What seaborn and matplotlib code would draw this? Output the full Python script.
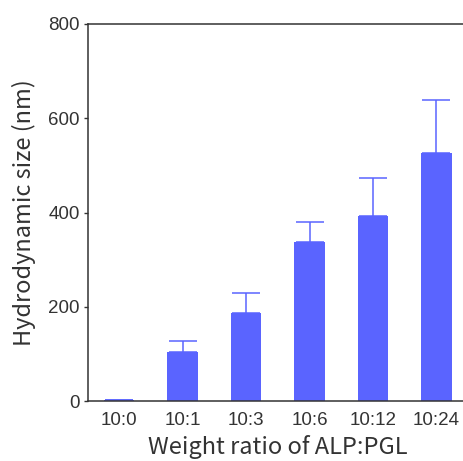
import seaborn as sns
import matplotlib.pyplot as plt
import numpy as np

ratios = ['10:0', '10:1', '10:3', '10:6', '10:12', '10:24']
size_nm = [3, 105, 186, 338, 393, 527]
size_err = [0, 22, 43, 41, 81, 112]

bar_color = '#5a64ff'
text_color = '#333333'

sns.set_style('ticks')
plt.rcParams['font.family'] = ['Liberation Sans', 'DejaVu Sans']

fig = plt.figure(figsize=(4.64, 4.61), dpi=100)
ax = fig.add_axes([0.19, 0.13, 0.819, 0.818])

sns.barplot(x=ratios, y=size_nm, color=bar_color, saturation=1, width=0.48,
            linewidth=0, ax=ax)
ax.errorbar(np.arange(len(ratios)), size_nm, yerr=[np.zeros(len(ratios)), size_err],
            fmt='none', ecolor=bar_color, elinewidth=1.1, capsize=10, capthick=1.1)

ax.set_ylim(0, 800)
ax.set_xlim(-0.49, 5.5)
ax.set_yticks([0, 200, 400, 600, 800])

for s in ax.spines.values():
    s.set_color(text_color)
    s.set_linewidth(1.1)

ax.tick_params(axis='y', length=3, width=1, pad=3, labelsize=13.5, colors=text_color)
ax.tick_params(axis='x', length=0, pad=8, labelsize=13.5, colors=text_color)

ax.set_xlabel('Weight ratio of ALP:PGL', fontsize=17, color=text_color,
              family=['Noto Sans CJK SC', 'DejaVu Sans'], labelpad=4)
ax.set_ylabel('Hydrodynamic size (nm)', fontsize=17, color=text_color,
              family=['Noto Sans CJK SC', 'DejaVu Sans'], labelpad=9)

fig.savefig('out.png', dpi=100)
